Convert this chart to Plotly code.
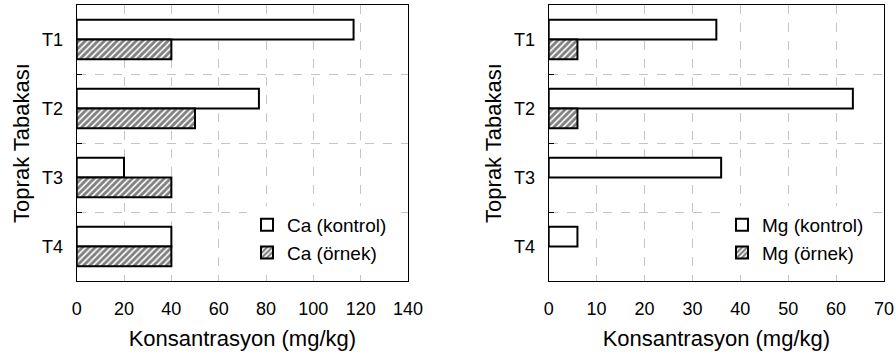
import plotly.graph_objects as go

categories = ["T1", "T2", "T3", "T4"]
ca_kontrol = [117, 77, 20, 40]
ca_ornek = [40, 50, 40, 40]
mg_kontrol = [35, 63.5, 36, 6]
mg_ornek = [6, 6, None, None]
ca_ticks = [0, 20, 40, 60, 80, 100, 120, 140]
mg_ticks = [0, 10, 20, 30, 40, 50, 60, 70]

FONT = "Liberation Sans, Arial, sans-serif"
W, H = 896, 363

fig = go.Figure()

def add(vals, name, xa, ya, leg, hatched):
    fig.add_trace(go.Bar(
        y=categories, x=vals, orientation="h", name=name,
        xaxis=xa, yaxis=ya, legend=leg,
        marker=dict(color="white", line=dict(color="black", width=2),
                    pattern=dict(shape="/" if hatched else "", fgcolor="black",
                                 bgcolor="white", size=4.5, solidity=0.62)),
    ))

add(ca_kontrol, "Ca (kontrol)", "x", "y", "legend", False)
add(ca_ornek, "Ca (örnek)", "x", "y", "legend", True)
add(mg_kontrol, "Mg (kontrol)", "x2", "y2", "legend2", False)
add(mg_ornek, "Mg (örnek)", "x2", "y2", "legend2", True)

ydom = [1 - 281 / H, 1 - 5 / H]
xd1 = [76.7 / W, 408 / W]
xd2 = [548.7 / W, 884 / W]

def xaxis(dom, ticks, anchor):
    return dict(domain=dom, anchor=anchor, range=[ticks[0], ticks[-1]], tickvals=ticks,
                automargin=False,
                showgrid=True, gridcolor="#c4c4c4", griddash="dash", gridwidth=1,
                showline=True, mirror=True, linecolor="black", linewidth=1.2,
                ticks="", zeroline=False, ticklabelstandoff=11,
                tickfont=dict(size=18, color="black", family=FONT),
                title=dict(text="Konsantrasyon (mg/kg)", standoff=12,
                           font=dict(size=22, color="black", family=FONT)))

def yaxis(anchor):
    return dict(domain=ydom, anchor=anchor, autorange="reversed", tickson="boundaries",
                automargin=False,
                showgrid=True, gridcolor="#c4c4c4", griddash="dash", gridwidth=1,
                showline=True, mirror=True, linecolor="black", linewidth=1.2,
                ticks="inside", ticklen=5, tickcolor="black", ticklabelstandoff=9,
                tickfont=dict(size=18, color="black", family=FONT),
                title=dict(text="Toprak Tabakası", standoff=6,
                           font=dict(size=22, color="black", family=FONT)))

fig.update_layout(
    width=W, height=H, margin=dict(l=0, r=0, t=0, b=0),
    paper_bgcolor="white", plot_bgcolor="white",
    barmode="group", bargap=0.43, bargroupgap=0,
    font=dict(family=FONT, color="black"),
    xaxis=xaxis(xd1, ca_ticks, "y"), yaxis=yaxis("x"),
    xaxis2=xaxis(xd2, mg_ticks, "y2"), yaxis2=yaxis("x2"),
    legend=dict(x=247 / W, y=1 - 206 / H, xanchor="left", yanchor="top",
                bgcolor="white", borderwidth=0, tracegroupgap=0,
                font=dict(size=19, color="black", family=FONT), itemwidth=30),
    legend2=dict(x=722 / W, y=1 - 206 / H, xanchor="left", yanchor="top",
                 bgcolor="white", borderwidth=0, tracegroupgap=0,
                 font=dict(size=19, color="black", family=FONT), itemwidth=30),
    showlegend=True,
)

fig.write_html("out.html")
